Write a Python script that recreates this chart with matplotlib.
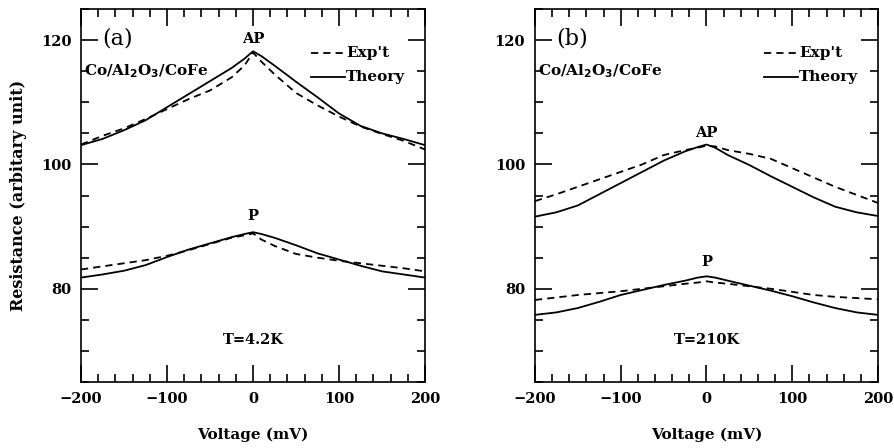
import numpy as np
import matplotlib.pyplot as plt
from matplotlib.ticker import MultipleLocator

# voltage points (mV)
v = [-200, -175, -150, -125, -100, -75, -50, -25, -10, 0, 10, 25, 50, 75, 100, 125, 150, 175, 200]

# panel (a) T=4.2K
ap_theory_a = [103.1, 104.1, 105.5, 107.1, 109.2, 111.3, 113.4, 115.5, 117.0, 118.2, 117.4, 115.9, 113.3, 110.8, 108.2, 106.2, 105.0, 104.1, 103.1]
ap_exp_a    = [103.2, 104.6, 105.8, 107.3, 108.9, 110.5, 111.9, 114.0, 115.9, 118.0, 116.5, 114.5, 111.5, 109.5, 107.7, 106.1, 104.9, 103.8, 102.4]
p_theory_a  = [81.8, 82.3, 82.9, 83.8, 85.1, 86.3, 87.3, 88.3, 88.8, 89.1, 88.8, 88.2, 87.0, 85.7, 84.7, 83.7, 82.8, 82.3, 81.8]
p_exp_a     = [83.1, 83.6, 84.1, 84.6, 85.3, 86.2, 87.2, 88.2, 88.6, 88.9, 87.9, 86.9, 85.6, 85.0, 84.5, 84.1, 83.7, 83.3, 82.8]

# panel (b) T=210K
ap_theory_b = [91.6, 92.3, 93.4, 95.2, 97.0, 98.8, 100.6, 102.1, 102.8, 103.2, 102.7, 101.5, 99.9, 98.1, 96.4, 94.7, 93.2, 92.3, 91.7]
ap_exp_b    = [94.1, 95.2, 96.4, 97.6, 98.8, 100.0, 101.5, 102.3, 102.7, 103.0, 102.9, 102.3, 101.7, 100.9, 99.4, 97.9, 96.4, 95.1, 93.8]
p_theory_b  = [75.8, 76.2, 76.9, 77.9, 79.0, 79.8, 80.6, 81.3, 81.8, 82.0, 81.8, 81.3, 80.5, 79.7, 78.8, 77.8, 76.9, 76.2, 75.8]
p_exp_b     = [78.2, 78.6, 79.0, 79.3, 79.6, 80.0, 80.4, 80.8, 81.0, 81.2, 81.0, 80.8, 80.4, 80.0, 79.5, 79.0, 78.7, 78.5, 78.3]

plt.rcParams['font.family'] = 'DejaVu Serif'
plt.rcParams['font.weight'] = 'bold'

fig = plt.figure(figsize=(8.94, 4.48), dpi=100)
ax1 = fig.add_axes([0.0906, 0.1473, 0.3848, 0.8326])
ax2 = fig.add_axes([0.5984, 0.1473, 0.3837, 0.8326])

dash = (0, (4, 2.8))

def setup(ax):
	ax.set_xlim(-200, 200)
	ax.set_ylim(65, 125)
	ax.xaxis.set_major_locator(MultipleLocator(100))
	ax.xaxis.set_minor_locator(MultipleLocator(20))
	ax.yaxis.set_major_locator(MultipleLocator(20))
	ax.yaxis.set_minor_locator(MultipleLocator(5))
	ax.tick_params(which='both', direction='in', top=True, right=True, width=1.2, labelsize=10.5)
	ax.tick_params(which='major', length=12, pad=7)
	ax.tick_params(which='minor', length=6)
	for s in ax.spines.values():
		s.set_linewidth(1.2)
	ax.set_xlabel('Voltage (mV)', fontsize=11, fontweight='bold', labelpad=16)

def panel(ax, ap_th, ap_ex, p_th, p_ex, lab, temp, ap_y, p_y):
	ax.plot(v, ap_th, 'k-', lw=1.3)
	ax.plot(v, ap_ex, color='k', ls=dash, lw=1.3)
	ax.plot(v, p_th, 'k-', lw=1.3)
	ax.plot(v, p_ex, color='k', ls=dash, lw=1.3)
	setup(ax)
	ax.text(-175, 120.3, lab, fontsize=16, fontweight='normal', ha='left', va='center')
	ax.text(0, ap_y, 'AP', fontsize=10.5, ha='center', va='bottom')
	ax.text(0, p_y, 'P', fontsize=10.5, ha='center', va='bottom')
	ax.text(-197, 115, 'Co/Al$_2$O$_3$/CoFe', fontsize=11, ha='left', va='center')
	ax.text(0, 71.8, temp, fontsize=10.5, ha='center', va='center')
	# legend drawn by hand like the original
	ax.plot([67, 107], [118, 118], color='k', ls=dash, lw=1.3)
	ax.plot([67, 107], [114, 114], 'k-', lw=1.3)
	ax.text(108, 118, "Exp't", fontsize=11, ha='left', va='center')
	ax.text(108, 114, 'Theory', fontsize=11, ha='left', va='center')

panel(ax1, ap_theory_a, ap_exp_a, p_theory_a, p_exp_a, '(a)', 'T=4.2K', 119.0, 90.5)
panel(ax2, ap_theory_b, ap_exp_b, p_theory_b, p_exp_b, '(b)', 'T=210K', 103.9, 83.2)

ax1.set_ylabel('Resistance (arbitary unit)', fontsize=11.5, fontweight='bold', labelpad=10)

fig.savefig('out.png', dpi=100)
